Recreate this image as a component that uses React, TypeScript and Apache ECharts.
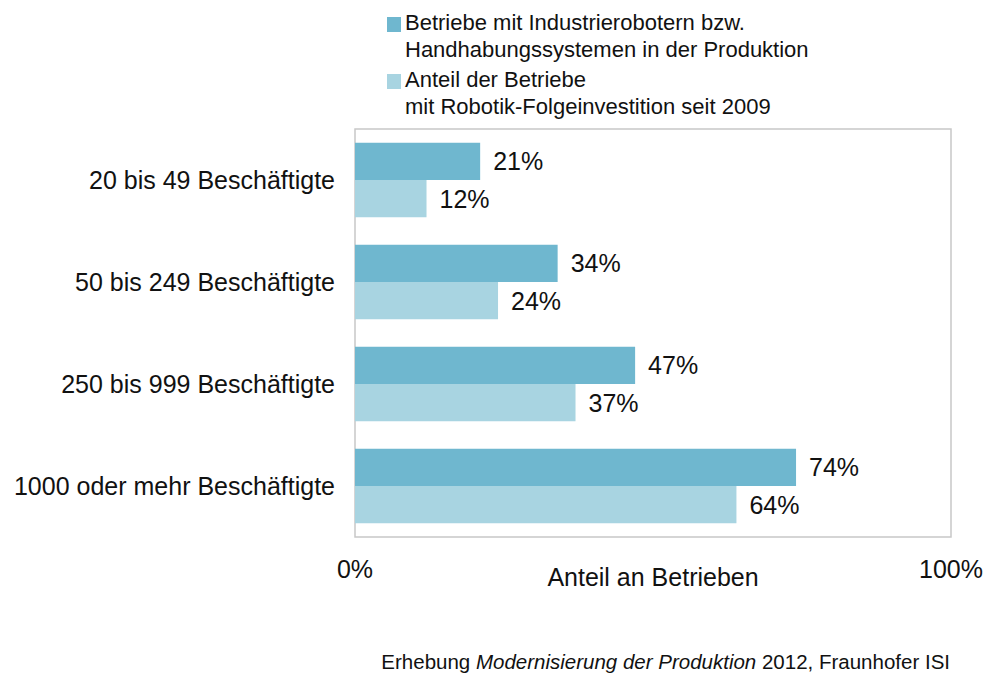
import React, { useEffect, useRef } from "react";
import * as echarts from "echarts";

const categories = [
  "20 bis 49 Beschäftigte",
  "50 bis 249 Beschäftigte",
  "250 bis 999 Beschäftigte",
  "1000 oder mehr Beschäftigte",
];
const seriesRobots = [21, 34, 47, 74];
const seriesFollowUp = [12, 24, 37, 64];
const seriesNames = [
  "Betriebe mit Industrierobotern bzw.\nHandhabungssystemen in der Produktion",
  "Anteil der Betriebe\nmit Robotik-Folgeinvestition seit 2009",
];
const xTicks = [0, 100];

const DARK = "#6fb7cf";
const LIGHT = "#a8d4e1";
const FONT = "'Liberation Sans', Arial, Helvetica, sans-serif";
const TXT = "#111111";

export default function App() {
  const ref = useRef<HTMLDivElement>(null);
  useEffect(() => {
    document.body.style.margin = "0";
    if (!ref.current) return;
    const chart = echarts.init(ref.current, undefined, { renderer: "svg" });
    const barLabel = {
      show: true,
      position: "right",
      distance: 13,
      formatter: "{c}%",
      fontSize: 25,
      color: TXT,
      fontFamily: FONT,
    };
    chart.setOption({
      animation: false,
      textStyle: { fontFamily: FONT },
      grid: {
        left: 355,
        right: 35,
        top: 129,
        bottom: 138,
        show: true,
        borderColor: "#c8c8c8",
        borderWidth: 1.5,
        containLabel: false,
      },
      xAxis: {
        type: "value",
        min: xTicks[0],
        max: xTicks[1],
        interval: 100,
        axisLine: { show: false },
        axisTick: { show: false },
        splitLine: { show: false },
        axisLabel: {
          formatter: (v: number) => v + "%",
          fontSize: 25,
          color: TXT,
          margin: 19,
          fontFamily: FONT,
        },
        name: "Anteil an Betrieben",
        nameLocation: "middle",
        nameGap: 27,
        nameMoveOverlap: false,
        nameTextStyle: { fontSize: 25, color: TXT, fontFamily: FONT },
      },
      yAxis: {
        type: "category",
        data: categories,
        inverse: true,
        axisLine: { show: false },
        axisTick: { show: false },
        axisLabel: {
          fontSize: 25,
          color: TXT,
          margin: 20,
          fontFamily: FONT,
        },
      },
      series: [
        {
          type: "bar",
          name: seriesNames[0],
          data: seriesRobots,
          itemStyle: { color: DARK },
          barGap: "0%",
          barCategoryGap: "27%",
          label: barLabel,
        },
        {
          type: "bar",
          name: seriesNames[1],
          data: seriesFollowUp,
          itemStyle: { color: LIGHT },
          barGap: "0%",
          barCategoryGap: "27%",
          label: barLabel,
        },
      ],
      graphic: [
        { type: "rect", left: 387, top: 17, shape: { width: 14, height: 15 }, style: { fill: DARK } },
        {
          type: "text",
          left: 405,
          top: 9,
          style: {
            text: seriesNames[0],
            fontSize: 22,
            lineHeight: 27,
            fill: TXT,
            fontFamily: FONT,
          },
        },
        { type: "rect", left: 387, top: 74, shape: { width: 14, height: 15 }, style: { fill: LIGHT } },
        {
          type: "text",
          left: 405,
          top: 66,
          style: {
            text: seriesNames[1],
            fontSize: 22,
            lineHeight: 27,
            fill: TXT,
            fontFamily: FONT,
          },
        },
        {
          type: "text",
          right: 36,
          top: 651,
          style: {
            text: "Erhebung {i|Modernisierung der Produktion} 2012, Fraunhofer ISI",
            fontSize: 20.5,
            fill: TXT,
            fontFamily: FONT,
            rich: {
              i: { fontStyle: "italic", fontSize: 20.5, fill: TXT, fontFamily: FONT },
            },
          },
        },
      ],
    });
    return () => chart.dispose();
  }, []);
  return <div ref={ref} style={{ width: 986, height: 675 }} />;
}
